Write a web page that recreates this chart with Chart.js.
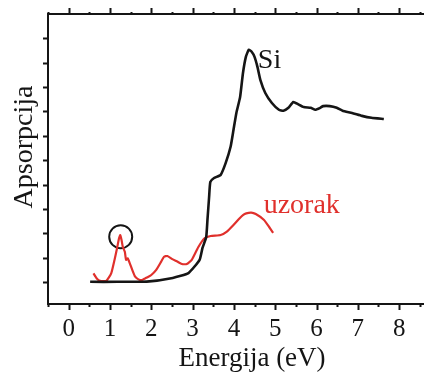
<!DOCTYPE html>
<html>
<head>
<meta charset="utf-8">
<script src="https://cdn.jsdelivr.net/npm/chart.js@4"></script>
<style>
  html, body { margin: 0; padding: 0; background: #fff; overflow: hidden; }
  #wrap { width: 456px; height: 372px; }
</style>
</head>
<body>
<div id="wrap"><canvas id="chart" width="456" height="372"></canvas></div>
<script>
// ====== DATA ======
const siEnergy = [0.52, 1.18, 1.89, 2.52, 2.90, 3.17, 3.24, 3.33, 3.36, 3.40, 3.43, 3.52, 3.68, 3.80, 3.92, 3.99,
  4.06, 4.15, 4.22, 4.29, 4.36, 4.43, 4.50, 4.57, 4.64, 4.76, 4.92, 5.09, 5.20, 5.32, 5.44, 5.55, 5.69, 5.86,
  5.97, 6.09, 6.16, 6.32, 6.49, 6.63, 6.86, 7.10, 7.33, 7.63];
const siAbs = [1.01, 1.01, 1.02, 1.17, 1.37, 1.91, 2.40, 2.85, 3.55, 4.49, 5.11, 5.27, 5.40, 5.88, 6.55, 7.24,
  7.94, 8.59, 9.58, 10.24, 10.53, 10.45, 10.24, 9.83, 9.30, 8.76, 8.35, 8.07, 8.03, 8.15, 8.39, 8.30, 8.18, 8.15,
  8.07, 8.15, 8.22, 8.22, 8.15, 8.03, 7.94, 7.82, 7.74, 7.69];

const uzorakEnergy = [0.60, 0.68, 0.76, 0.91, 1.03, 1.11, 1.17, 1.22, 1.25, 1.28, 1.31, 1.36, 1.39, 1.43, 1.48,
  1.54, 1.61, 1.69, 1.77, 1.85, 1.93, 2.00, 2.12, 2.24, 2.31, 2.39, 2.51, 2.63, 2.74, 2.86, 2.98, 3.14, 3.29,
  3.44, 3.68, 3.83, 3.99, 4.14, 4.22, 4.30, 4.42, 4.53, 4.73, 4.85, 4.95];
const uzorakAbs = [1.36, 1.15, 1.05, 1.05, 1.36, 1.91, 2.38, 2.80, 2.93, 2.73, 2.45, 2.24, 1.91, 1.97, 1.77,
  1.50, 1.22, 1.11, 1.08, 1.15, 1.22, 1.29, 1.50, 1.84, 2.04, 2.07, 1.94, 1.84, 1.74, 1.74, 1.91, 2.44, 2.80,
  2.89, 2.93, 3.07, 3.34, 3.62, 3.75, 3.82, 3.85, 3.79, 3.55, 3.27, 3.02];

// circled peak
const circleEnergy = [1.26];
const circleAbs = [2.86];

const xTicks = [0, 1, 2, 3, 4, 5, 6, 7, 8];
const yTicks = [1, 2, 3, 4, 5, 6, 7, 8, 9, 10, 11];

const RED = '#e0302c';
const INK = '#151515';
const SERIF = '"Liberation Serif", "DejaVu Serif", serif';

function toPoints(xs, ys) {
  return xs.map((x, i) => ({ x: x, y: ys[i] }));
}

// ====== TICKS + LABELS PLUGIN ======
const decorPlugin = {
  id: 'decor',
  afterDraw(chart) {
    const ctx = chart.ctx;
    const xs = chart.scales.x;
    const ys = chart.scales.y;
    const area = chart.chartArea;
    ctx.save();
    ctx.strokeStyle = INK;
    ctx.lineWidth = 2;
    ctx.beginPath();
    // x ticks (bottom + top), majors at integers, minors at halves
    for (let v = -0.5; v <= 8.5; v += 0.5) {
      const px = Math.round(xs.getPixelForValue(v)) + 0.5;
      const major = Number.isInteger(v);
      ctx.moveTo(px, area.bottom);
      ctx.lineTo(px, area.bottom + (major ? 6 : 3));
      ctx.moveTo(px, area.top);
      ctx.lineTo(px, area.top - (major ? 6 : 2));
    }
    // y ticks
    yTicks.forEach(v => {
      const py = Math.round(ys.getPixelForValue(v)) + 0.5;
      ctx.moveTo(area.left, py);
      ctx.lineTo(area.left - 5, py);
    });
    ctx.stroke();

    // axis titles
    ctx.fillStyle = INK;
    ctx.font = '27px ' + SERIF;
    ctx.textAlign = 'center';
    ctx.textBaseline = 'alphabetic';
    ctx.fillText('Energija (eV)', 252, 366);

    ctx.save();
    ctx.translate(32, 147);
    ctx.rotate(-Math.PI / 2);
    ctx.font = '28px ' + SERIF;
    ctx.fillText('Apsorpcija', 0, 0);
    ctx.restore();

    // curve labels
    ctx.textAlign = 'left';
    ctx.font = '28px ' + SERIF;
    ctx.fillStyle = INK;
    ctx.fillText('Si', xs.getPixelForValue(4.58), ys.getPixelForValue(9.78));
    ctx.fillStyle = RED;
    ctx.fillText('uzorak', xs.getPixelForValue(4.72), ys.getPixelForValue(3.84));
    ctx.restore();
  }
};

// ====== CHART ======
const ctx = document.getElementById('chart');
new Chart(ctx, {
  type: 'scatter',
  data: {
    datasets: [
      {
        label: 'Si',
        data: toPoints(siEnergy, siAbs),
        showLine: true,
        borderColor: INK,
        borderWidth: 2.6,
        pointRadius: 0,
        tension: 0.15
      },
      {
        label: 'uzorak',
        data: toPoints(uzorakEnergy, uzorakAbs),
        showLine: true,
        borderColor: RED,
        borderWidth: 2.2,
        pointRadius: 0,
        tension: 0.15
      },
      {
        label: 'peak',
        data: toPoints(circleEnergy, circleAbs),
        showLine: false,
        pointRadius: 11.5,
        pointBorderWidth: 2,
        pointBorderColor: INK,
        pointBackgroundColor: 'rgba(0,0,0,0)'
      }
    ]
  },
  options: {
    responsive: false,
    animation: false,
    layout: { padding: 0 },
    plugins: {
      legend: { display: false },
      tooltip: { enabled: false }
    },
    scales: {
      x: {
        type: 'linear',
        position: 'bottom',
        min: -0.5,
        max: 9.05,
        afterBuildTicks: s => { s.ticks = xTicks.map(v => ({ value: v })); },
        afterFit: s => { s.height = 68; },
        grid: { display: false },
        border: { display: true, color: INK, width: 2 },
        ticks: {
          color: INK,
          padding: 2,
          maxRotation: 0,
          font: { size: 25, family: SERIF }
        }
      },
      x2: {
        type: 'linear',
        position: 'top',
        min: -0.5,
        max: 9.05,
        afterFit: s => { s.height = 14; },
        grid: { display: false },
        border: { display: true, color: INK, width: 2 },
        ticks: { display: false }
      },
      y: {
        type: 'linear',
        min: 0.1,
        max: 12,
        afterFit: s => { s.width = 48; },
        grid: { display: false },
        border: { display: true, color: INK, width: 2 },
        ticks: { display: false }
      }
    }
  },
  plugins: [decorPlugin]
});
</script>
</body>
</html>
